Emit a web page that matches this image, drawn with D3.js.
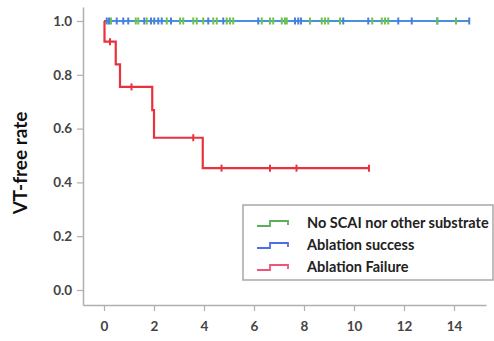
<!DOCTYPE html>
<html><head><meta charset="utf-8">
<script src="https://cdn.jsdelivr.net/npm/d3@7"></script>
<style>body{margin:0;background:#fff}svg{display:block}</style>
</head><body>
<script>
// ---- data ----
const xTicks = [0, 2, 4, 6, 8, 10, 12, 14];
const yTicks = [0.0, 0.2, 0.4, 0.6, 0.8, 1.0];
const seriesNames = ["No SCAI nor other substrate", "Ablation success", "Ablation Failure"];

const greenStepTimes = [0, 14.08];
const greenStepValues = [1.0, 1.0];
const greenCensor = [0.28, 1.27, 1.37, 1.71, 2.51, 3.04, 3.17, 3.57, 3.71, 3.97, 4.37, 4.51, 4.91, 5.04, 5.17, 6.31, 6.64, 6.77, 7.11, 7.24, 7.31, 8.24, 8.71, 8.84, 8.97, 9.44, 10.73, 11.11, 11.24, 11.37, 13.33, 14.08];

const blueStepTimes = [0, 14.61];
const blueStepValues = [1.0, 1.0];
const blueCensor = [0.11, 0.2, 0.51, 0.77, 0.97, 1.61, 1.88, 2.01, 2.17, 2.31, 2.68, 4.17, 4.77, 6.17, 7.64, 7.77, 7.88, 9.57, 10.57, 11.77, 12.31, 13.33, 14.61];

const redStepTimes = [0, 0.02, 0.47, 0.64, 1.93, 2.0, 3.95, 10.6];
const redStepValues = [1.0, 0.923, 0.839, 0.755, 0.669, 0.566, 0.453, 0.453];
const redCensorTimes = [0.24, 1.1, 3.57, 4.7, 6.64, 7.7, 10.6];
const redCensorValues = [0.923, 0.755, 0.566, 0.453, 0.453, 0.453, 0.453];

// ---- chart ----
const W = 494, H = 341;
const svg = d3.select("body").append("svg").attr("width", W).attr("height", H);

const x = d3.scaleLinear().domain([-0.84, 15.28]).range([83, 486]);
const y = d3.scaleLinear().domain([-0.0558, 1.052]).range([305, 7]);

const axisColor = "#b0b0b0";
const labelColor = "#444";

const yAxis = svg.append("g").attr("transform", "translate(83,0)")
  .call(d3.axisLeft(y).tickValues(yTicks).tickFormat(d3.format(".1f")).tickSize(6).tickSizeOuter(0));
const xAxis = svg.append("g").attr("transform", "translate(0,305)")
  .call(d3.axisBottom(x).tickValues(xTicks).tickFormat(d3.format("d")).tickSize(6).tickSizeOuter(0));
[yAxis, xAxis].forEach(g => {
  g.select(".domain").attr("stroke", axisColor).attr("stroke-width", 1.5);
  g.selectAll(".tick line").attr("stroke", axisColor).attr("stroke-width", 1.2);
  g.selectAll(".tick text").attr("fill", labelColor).attr("font-family", "Lato, sans-serif")
    .attr("font-weight", 700).attr("font-size", 13.5);
});
yAxis.selectAll(".tick text").attr("x", -11);
xAxis.selectAll(".tick text").attr("y", 16);

svg.append("text")
  .attr("transform", "translate(27,163) rotate(-90)")
  .attr("text-anchor", "middle")
  .attr("font-family", "Lato, sans-serif").attr("font-weight", 700).attr("font-size", 19)
  .attr("fill", "#111").text("VT-free rate");

const stepLine = d3.line().x(d => x(d[0])).y(d => y(d[1])).curve(d3.curveStepAfter);

function drawSeries(times, values, color) {
  const pts = times.map((t, i) => [t, values[i]]);
  svg.append("path").datum(pts).attr("d", stepLine)
    .attr("fill", "none").attr("stroke", color).attr("stroke-width", 2.2);
}
function drawCensor(times, values, color) {
  svg.append("g").selectAll("line").data(times.map((t, i) => [t, values[i]])).join("line")
    .attr("x1", d => x(d[0])).attr("x2", d => x(d[0]))
    .attr("y1", d => y(d[1]) - 3.5).attr("y2", d => y(d[1]) + 3.5)
    .attr("stroke", color).attr("stroke-width", 2);
}

const green = "#6cc24a", blue = "#4a90e2", red = "#e8333f";

drawSeries(greenStepTimes, greenStepValues, green);
drawSeries(blueStepTimes, blueStepValues, blue);
drawCensor(blueCensor, blueCensor.map(() => 1.0), "#4a7fd8");
drawCensor(greenCensor, greenCensor.map(() => 1.0), green);
drawSeries(redStepTimes, redStepValues, red);
drawCensor(redCensorTimes, redCensorValues, red);

// ---- legend ----
const lg = svg.append("g");
lg.append("rect").attr("x", 243).attr("y", 205).attr("width", 250).attr("height", 75)
  .attr("fill", "#fff").attr("stroke", "#a8a8a8").attr("stroke-width", 1.5);
const legendColors = ["#5cae5c", "#4d6fe6", "#ee5577"];
seriesNames.forEach((name, i) => {
  const cy = 223 + i * 22;
  lg.append("path")
    .attr("d", `M257,${cy + 3} H270 V${cy - 2} H288 V${cy + 2}`)
    .attr("fill", "none").attr("stroke", legendColors[i]).attr("stroke-width", 1.8);
  lg.append("text").attr("x", 307).attr("y", cy).attr("dy", "0.35em")
    .attr("font-family", "Lato, sans-serif").attr("font-weight", 700).attr("font-size", 14.5)
    .attr("fill", "#222").text(name);
});
</script>
</body></html>
